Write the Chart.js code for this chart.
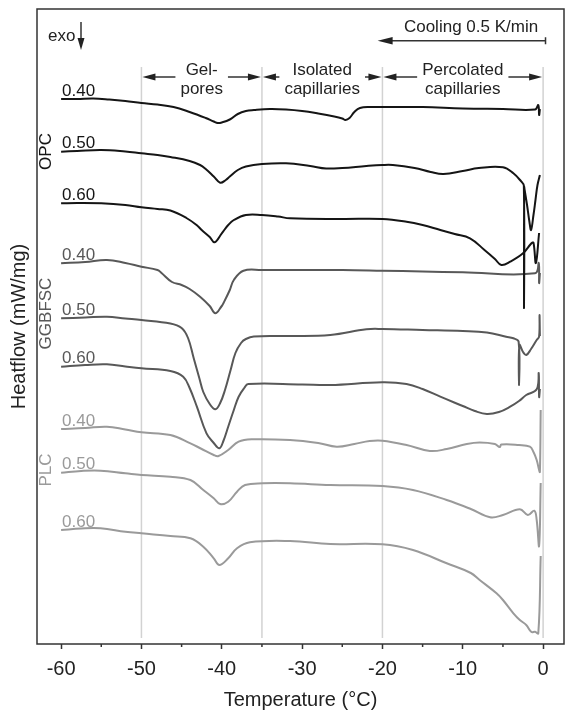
<!DOCTYPE html>
<html><head><meta charset="utf-8">
<script src="https://cdn.jsdelivr.net/npm/chart.js@4/dist/chart.umd.min.js"></script>
<style>html,body{margin:0;padding:0;background:#fff;}#wrap{width:566px;height:712px;position:relative;}</style>
</head><body><div id="wrap"><canvas id="c"></canvas></div>
<script>
// ---- axis / category data ----
const xTickValues = [-60, -50, -40, -30, -20, -10, 0];
const xTickLabels = ['-60', '-50', '-40', '-30', '-20', '-10', '0'];
const xMinorTicks = [-55, -45, -35, -25, -15, -5];
const regionBounds = [-50, -35, -20, 0];
const regionNames = [['Gel-', 'pores'], ['Isolated', 'capillaries'], ['Percolated', 'capillaries']];
const groupNames = ['OPC', 'GGBFSC', 'PLC'];
const wcRatios = ['0.40', '0.50', '0.60'];
const coolingRange = [0.3, -20.6];

// ---- series (temperature °C, heat flow offset, arbitrary units) ----
const opc040T = [-60,-58,-56,-54,-52,-50,-48,-46,-44,-42,-41,-40.5,-40,-39,-38,-37,-36,-34,-32,-30,-28,-26,-25,-24.6,-24.1,-23.5,-22.8,-21.5,-20,-15,-10,-5,-1,-0.6,-0.5,-0.4];
const opc040H = [545,545,545.5,544.5,543,541,539.5,537,532,526,522.5,521,521.5,524.5,530,533,534,535,534.5,533,530.5,527.5,525.5,524,526,532,536,537,537,537,535.5,535,534.5,539,529,535];
const opc050T = [-60,-58,-55,-52,-50,-48,-46.4,-44,-42.7,-42,-41,-40.2,-39.5,-39,-38,-37,-35,-32,-29,-27,-25,-22,-20,-18.7,-16,-14,-12.4,-10,-8,-5,-3.7,-2.7,-2.4,-2.38,-2.36,-2.3,-2,-1.7,-1.5,-1.2,-0.95,-0.7,-0.4];
const opc050H = [492.3,493,494,492.5,490.7,489,487,483,479,475,467.5,461.3,464,467.5,474,477.5,480,480.7,478,475.5,476,478,479,479,476,472,470,473,476,476.7,470.7,462.3,458.5,336,457,454,439,422,414,429,444,459,469];
const opc060T = [-60,-58,-55,-52,-50,-48,-46.4,-44.4,-43,-42.5,-41.5,-40.9,-40,-39.2,-38.5,-37,-35,-33,-31.5,-25,-20,-17,-15,-12.8,-11,-9.1,-7.3,-6,-5.2,-4.1,-2.5,-1.45,-1.2,-0.9,-0.5];
const opc060H = [440.7,441,440.7,439,436.7,435,433.5,426,418,414,407,401.7,410.7,419,424,429,429,427.5,425.7,425,425,422.3,419,414,410,405.7,394,385,379,382.3,390.7,400.7,401.3,381,411];
const ggb040T = [-60,-57,-54.3,-52,-50,-48,-47.5,-46.2,-45,-44,-42.7,-41.5,-40.8,-40,-39.8,-39,-38.5,-37.3,-35,-30,-25,-20,-15,-10,-1,-0.55,-0.5,-0.4];
const ggb040H = [380.7,382,384,381,377.3,374,371,362,359,355,347.3,338,330.7,338,340.7,354,364,373.3,374,374,374,373.3,372.5,371.7,370.7,381,361,371];
const ggb050T = [-60,-57,-54.3,-52,-50,-46.4,-45,-44.2,-43.5,-42.8,-42.3,-41.5,-40.8,-40.2,-39.6,-38.9,-38.3,-37.6,-37,-36,-32,-26.5,-22,-20,-15,-10,-7,-4.6,-3.7,-3.05,-3.0,-2.95,-2.5,-2.1,-1.5,-0.8,-0.5,-0.45,-0.4];
const ggb050H = [325.7,326.5,327.3,325.5,324,320.5,316,306,286,266,252,240,234.7,241,254,274,291,301,305,307.5,308,309,314.7,315,314,313,311.5,307.3,305.7,302.3,259,299,292,289,295,304,307.3,329,308];
const ggb060T = [-60,-57,-54.3,-52,-50,-46.4,-44.8,-44,-43.1,-41.9,-41,-40.3,-39.8,-39.2,-38.5,-37.9,-37.2,-36.7,-30,-26.5,-20,-17,-15,-12.8,-10,-8.5,-7,-5.5,-4.1,-3,-2.1,-0.8,-0.55,-0.5,-0.4];
const ggb060H = [277.3,279,279.7,277.5,275.7,273,267.3,256,237.3,210.7,201,195.7,203,217.3,234,247.3,256,260,259.5,259,261.7,260,255,247.3,238,233,230,232,237.3,243,249,254.7,271,247,255];
const plc040T = [-60,-57,-54.3,-52,-50,-46.4,-43.9,-42.5,-41,-40.4,-39.2,-37.9,-36.3,-31.5,-28,-25.7,-23.5,-21.6,-20,-17,-14.1,-12,-9.5,-7.9,-6,-5.4,-5.2,-3,-1.65,-1.2,-0.8,-0.5,-0.4,-0.3];
const plc040H = [215,216,217.3,214.5,211.7,209,200.7,195,189,188,194,202.3,204.7,204,201,197.3,200,203,203.3,199,193,195,200,201.5,200,197,199.5,199,197.3,192,184,174,172,234];
const plc050T = [-60,-57.5,-55.1,-52,-50,-46.4,-43.9,-42.3,-41,-40.2,-39.2,-38.1,-37.1,-34.9,-31.5,-26.5,-20,-16.2,-12,-9,-6.6,-5,-2.9,-1.9,-1.1,-0.8,-0.5,-0.3];
const plc050H = [171.3,173,173.3,170.7,169,167.3,164,154,145.7,140,142.3,152.3,159,160.7,160.7,159,158,154,144,135,126.7,129,134.7,129,133.3,124,98,161];
const plc060T = [-60,-57.5,-55.1,-52,-50,-46.4,-43.9,-42.3,-41,-40.3,-39.2,-38.1,-36.5,-31.5,-26.5,-20,-16.2,-12,-9,-7.9,-5.8,-5,-3.7,-2.9,-2.1,-1.45,-1,-0.6,-0.3];
const plc060H = [114,115.5,115.7,112.3,110.7,108,105.7,97.3,85.7,79,85.7,95.7,101.7,103,100,99.7,94,80.7,71,64,50.7,44,30.7,24,19,12,12.3,10.7,88];

// ---- styles ----
const groupColors = ['#151515', '#585858', '#9a9a9a'];
const groupLabelCenters = [151.5, 313.5, 470];
const FONT = "'Liberation Sans', Arial, sans-serif";
Chart.defaults.font.family = FONT;

const seriesT = [[opc040T, opc050T, opc060T], [ggb040T, ggb050T, ggb060T], [plc040T, plc050T, plc060T]];
const seriesH = [[opc040H, opc050H, opc060H], [ggb040H, ggb050H, ggb060H], [plc040H, plc050H, plc060H]];

const datasets = [];
groupNames.forEach((g, gi) => {
  wcRatios.forEach((r, ri) => {
    const T = seriesT[gi][ri], H = seriesH[gi][ri];
    datasets.push({
      label: g + ' ' + r,
      data: T.map((t, k) => ({x: t, y: H[k]})),
      borderColor: groupColors[gi],
      borderWidth: 2,
      pointRadius: 0,
      fill: false,
      tension: 0.4,
      _group: gi, _ratio: r
    });
  });
});

function head(ctx, x, y, dir, len, hw) {
  ctx.beginPath();
  if (dir === 'left') { ctx.moveTo(x, y); ctx.lineTo(x + len, y - hw); ctx.lineTo(x + len, y + hw); }
  else if (dir === 'right') { ctx.moveTo(x, y); ctx.lineTo(x - len, y - hw); ctx.lineTo(x - len, y + hw); }
  else { ctx.moveTo(x, y); ctx.lineTo(x - hw, y - len); ctx.lineTo(x + hw, y - len); }
  ctx.closePath(); ctx.fill();
}

const annot = {
  id: 'annot',
  beforeDatasetsDraw(chart) {
    const {ctx, chartArea: a, scales: {x}} = chart;
    ctx.save();
    ctx.strokeStyle = '#d2d2d2'; ctx.lineWidth = 1.5;
    regionBounds.forEach(v => {
      const px = x.getPixelForValue(v);
      ctx.beginPath(); ctx.moveTo(px, a.top + 58); ctx.lineTo(px, a.bottom - 6); ctx.stroke();
    });
    ctx.restore();
  },
  afterDatasetsDraw(chart) {
    const {ctx, chartArea: a, scales: {x, y}} = chart;
    ctx.save();
    ctx.strokeStyle = '#333'; ctx.lineWidth = 1.5;
    ctx.strokeRect(a.left, a.top, a.right - a.left, a.bottom - a.top);
    xMinorTicks.forEach(v => {
      const px = x.getPixelForValue(v);
      ctx.beginPath(); ctx.moveTo(px, a.bottom); ctx.lineTo(px, a.bottom + 3); ctx.stroke();
    });
    ctx.font = '17px ' + FONT;
    ctx.fillStyle = '#222';
    const ay = a.top + 68;
    ctx.strokeStyle = '#333'; ctx.lineWidth = 1.5;
    regionNames.forEach((lines, i) => {
      const x0 = x.getPixelForValue(regionBounds[i]) + 1;
      const x1 = x.getPixelForValue(regionBounds[i + 1]) - 1;
      const mid = (x0 + x1) / 2;
      const w = Math.max(...lines.map(s => ctx.measureText(s).width));
      const gap = w / 2 + 5;
      ctx.beginPath();
      ctx.moveTo(x0 + 6, ay); ctx.lineTo(mid - gap, ay);
      ctx.moveTo(mid + gap, ay); ctx.lineTo(x1 - 6, ay);
      ctx.stroke();
      ctx.fillStyle = '#222';
      head(ctx, x0, ay, 'left', 13, 3.5);
      head(ctx, x1, ay, 'right', 13, 3.5);
      ctx.textAlign = 'center'; ctx.textBaseline = 'alphabetic';
      ctx.fillText(lines[0], mid, a.top + 65.5);
      ctx.fillText(lines[1], mid, a.top + 84.5);
    });
    const cy = a.top + 31.7;
    const cx0 = x.getPixelForValue(coolingRange[0]);
    const cx1 = x.getPixelForValue(coolingRange[1]);
    ctx.beginPath(); ctx.moveTo(cx0, cy); ctx.lineTo(cx1 + 10, cy);
    ctx.moveTo(cx0, cy - 3.5); ctx.lineTo(cx0, cy + 3.5); ctx.stroke();
    head(ctx, cx1, cy, 'left', 15, 3.8);
    ctx.textAlign = 'right';
    ctx.fillText('Cooling 0.5 K/min', x.getPixelForValue(0) - 5, a.top + 23.3);
    ctx.textAlign = 'left';
    ctx.fillText('exo', a.left + 11, a.top + 31.5);
    const ex = a.left + 44;
    ctx.beginPath(); ctx.moveTo(ex, a.top + 13); ctx.lineTo(ex, a.top + 32); ctx.stroke();
    head(ctx, ex, a.top + 41, 'down', 12, 3.5);
    chart.data.datasets.forEach(ds => {
      const p0 = ds.data[0];
      ctx.fillStyle = ds.borderColor;
      ctx.textAlign = 'left';
      ctx.fillText(ds._ratio, x.getPixelForValue(p0.x) + 1, y.getPixelForValue(p0.y) - 3.5);
    });
    groupNames.forEach((g, gi) => {
      ctx.save();
      ctx.translate(a.left + 9, groupLabelCenters[gi]);
      ctx.rotate(-Math.PI / 2);
      ctx.fillStyle = groupColors[gi];
      ctx.textAlign = 'center'; ctx.textBaseline = 'middle';
      ctx.fillText(g, 0, 0);
      ctx.restore();
    });
    ctx.restore();
  }
};

new Chart(document.getElementById('c'), {
  type: 'line',
  data: {datasets},
  options: {
    responsive: true, maintainAspectRatio: false, animation: false, devicePixelRatio: 1,
    layout: {padding: {left: 0, top: 9, right: 2, bottom: 0}},
    plugins: {legend: {display: false}, tooltip: {enabled: false}},
    scales: {
      x: {
        type: 'linear', min: -63, max: 2.6,
        afterBuildTicks: s => { s.ticks = xTickValues.map(v => ({value: v})); },
        afterFit: s => { s.height = 68; },
        ticks: {callback: v => xTickLabels[xTickValues.indexOf(v)], color: '#222', font: {size: 20}, padding: 8, maxRotation: 0, autoSkip: false},
        grid: {display: true, drawOnChartArea: false, drawTicks: true, tickLength: 5, tickColor: '#333', tickWidth: 1.5},
        border: {display: false},
        title: {display: true, text: 'Temperature (°C)', color: '#222', font: {size: 20}, padding: {top: 0, bottom: 0}}
      },
      y: {
        type: 'linear', min: 0, max: 635,
        afterFit: s => { s.width = 37; },
        ticks: {display: false}, grid: {display: false}, border: {display: false},
        title: {display: true, text: 'Heatflow (mW/mg)', color: '#222', font: {size: 20}, padding: {top: 7, bottom: 0}}
      }
    }
  },
  plugins: [annot]
});
</script>
</body></html>
